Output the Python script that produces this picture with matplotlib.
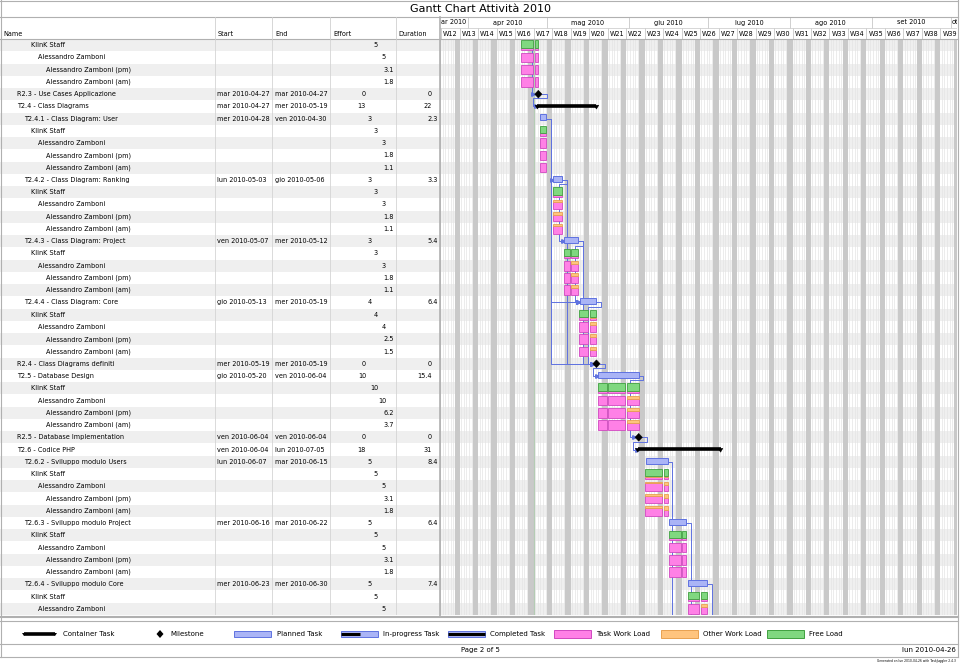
import matplotlib
matplotlib.use("Agg")
import matplotlib.pyplot as plt
import matplotlib.dates as mdates
from matplotlib.patches import Rectangle, Polygon
from matplotlib.lines import Line2D
from datetime import datetime, timedelta

plt.rcParams['font.family'] = ['DejaVu Sans']

# ---------------- data ----------------
title = "Gantt Chart Attività 2010"
columns = ["Name", "Start", "End", "Effort", "Duration"]

row_names = [
    "KlinK Staff", "Alessandro Zamboni", "Alessandro Zamboni (pm)", "Alessandro Zamboni (am)",
    "R2.3 - Use Cases Applicazione",
    "T2.4 - Class Diagrams",
    "T2.4.1 - Class Diagram: User",
    "KlinK Staff", "Alessandro Zamboni", "Alessandro Zamboni (pm)", "Alessandro Zamboni (am)",
    "T2.4.2 - Class Diagram: Ranking",
    "KlinK Staff", "Alessandro Zamboni", "Alessandro Zamboni (pm)", "Alessandro Zamboni (am)",
    "T2.4.3 - Class Diagram: Project",
    "KlinK Staff", "Alessandro Zamboni", "Alessandro Zamboni (pm)", "Alessandro Zamboni (am)",
    "T2.4.4 - Class Diagram: Core",
    "KlinK Staff", "Alessandro Zamboni", "Alessandro Zamboni (pm)", "Alessandro Zamboni (am)",
    "R2.4 - Class Diagrams definiti",
    "T2.5 - Database Design",
    "KlinK Staff", "Alessandro Zamboni", "Alessandro Zamboni (pm)", "Alessandro Zamboni (am)",
    "R2.5 - Database Implementation",
    "T2.6 - Codice PHP",
    "T2.6.2 - Sviluppo modulo Users",
    "KlinK Staff", "Alessandro Zamboni", "Alessandro Zamboni (pm)", "Alessandro Zamboni (am)",
    "T2.6.3 - Sviluppo modulo Project",
    "KlinK Staff", "Alessandro Zamboni", "Alessandro Zamboni (pm)", "Alessandro Zamboni (am)",
    "T2.6.4 - Sviluppo modulo Core",
    "KlinK Staff", "Alessandro Zamboni",
]
# 0 = top task, 1 = sub task, 2 = team, 3 = person, 4 = shift
row_level = [2, 3, 4, 4, 0, 0, 1, 2, 3, 4, 4, 1, 2, 3, 4, 4, 1, 2, 3, 4, 4,
             1, 2, 3, 4, 4, 0, 0, 2, 3, 4, 4, 0, 0, 1, 2, 3, 4, 4, 1, 2, 3, 4, 4,
             1, 2, 3]
row_kind = ["res"] * 4 + ["milestone", "container", "task"] + ["res"] * 4 + ["task"] + ["res"] * 4 \
    + ["task"] + ["res"] * 4 + ["task"] + ["res"] * 4 + ["milestone", "task"] + ["res"] * 4 \
    + ["milestone", "container", "task"] + ["res"] * 4 + ["task"] + ["res"] * 4 + ["task"] + ["res"] * 2
row_start = ["", "", "", "", "mar 2010-04-27", "mar 2010-04-27", "mer 2010-04-28", "", "", "", "",
             "lun 2010-05-03", "", "", "", "", "ven 2010-05-07", "", "", "", "",
             "gio 2010-05-13", "", "", "", "", "mer 2010-05-19", "gio 2010-05-20", "", "", "", "",
             "ven 2010-06-04", "ven 2010-06-04", "lun 2010-06-07", "", "", "", "",
             "mer 2010-06-16", "", "", "", "", "mer 2010-06-23", "", ""]
row_end = ["", "", "", "", "mar 2010-04-27", "mer 2010-05-19", "ven 2010-04-30", "", "", "", "",
           "gio 2010-05-06", "", "", "", "", "mer 2010-05-12", "", "", "", "",
           "mer 2010-05-19", "", "", "", "", "mer 2010-05-19", "ven 2010-06-04", "", "", "", "",
           "ven 2010-06-04", "lun 2010-07-05", "mar 2010-06-15", "", "", "", "",
           "mar 2010-06-22", "", "", "", "", "mer 2010-06-30", "", ""]
row_effort = ["5", "5", "3.1", "1.8", "0", "13", "3", "3", "3", "1.8", "1.1",
              "3", "3", "3", "1.8", "1.1", "3", "3", "3", "1.8", "1.1",
              "4", "4", "4", "2.5", "1.5", "0", "10", "10", "10", "6.2", "3.7",
              "0", "18", "5", "5", "5", "3.1", "1.8", "5", "5", "5", "3.1", "1.8",
              "5", "5", "5"]
row_duration = ["", "", "", "", "0", "22", "2.3", "", "", "", "",
                "3.3", "", "", "", "", "5.4", "", "", "", "",
                "6.4", "", "", "", "", "0", "15.4", "", "", "", "",
                "0", "31", "8.4", "", "", "", "", "6.4", "", "", "", "", "7.4", "", ""]

# task that owns the first resource rows (it sits on the previous page)
prev_task = ("2010-04-21", "2010-04-27")

# load per week for every resource row: (task load, other load); the rest is free load
row_load = [
    [(0.25, 0), (0.25, 0)], [(1, 0), (1, 0)], [(1, 0), (1, 0)], [(1, 0), (1, 0)],
    None, None, None,
    [(0.25, 0)], [(1, 0)], [(1, 0)], [(1, 0)],
    None,
    [(0.2, 0.05)], [(0.75, 0.25)], [(0.7, 0.3)], [(0.8, 0.2)],
    None,
    [(0.25, 0), (0.2, 0.05)], [(1, 0), (0.7, 0.3)], [(1, 0), (0.7, 0.3)], [(1, 0), (0.7, 0.3)],
    None,
    [(0.25, 0), (0.2, 0.05)], [(1, 0), (0.7, 0.3)], [(1, 0), (0.7, 0.3)], [(1, 0), (0.7, 0.3)],
    None, None,
    [(0.25, 0), (0.25, 0), (0.2, 0.05)], [(1, 0), (1, 0), (0.7, 0.3)],
    [(1, 0), (1, 0), (0.7, 0.3)], [(1, 0), (1, 0), (0.7, 0.3)],
    None, None, None,
    [(0.2, 0.05), (0.15, 0.1)], [(0.8, 0.2), (0.6, 0.4)], [(0.8, 0.2), (0.6, 0.4)], [(0.8, 0.2), (0.6, 0.4)],
    None,
    [(0.25, 0), (0.25, 0)], [(1, 0), (1, 0)], [(1, 0), (1, 0)], [(1, 0), (1, 0)],
    None,
    [(0.25, 0), (0.2, 0.05)], [(1, 0), (0.7, 0.3)],
]

deps = [("prev", "R2.3"), ("R2.3", "T2.4"), ("T2.4.1", "T2.4.2"), ("T2.4.2", "T2.4.3"),
        ("T2.4.3", "T2.4.4"), ("T2.4.1", "T2.4.4"), ("T2.4.2", "T2.4.4"),
        ("T2.4.1", "R2.4"), ("T2.4.2", "R2.4"), ("T2.4.3", "R2.4"), ("T2.4.4", "R2.4"),
        ("R2.4", "T2.5"), ("T2.5", "R2.5"), ("R2.5", "T2.6"),
        ("T2.6.2", "next"), ("T2.6.3", "next"), ("T2.6.4", "next")]
prev_dep_end = "2010-04-23"

month_labels = ["ar 2010", "apr 2010", "mag 2010", "giu 2010", "lug 2010", "ago 2010", "set 2010", "ott"]
month_starts = ["2010-03-22", "2010-04-01", "2010-05-01", "2010-06-01", "2010-07-01",
                "2010-08-01", "2010-09-01", "2010-10-01"]
first_week = 12
view_start = "2010-03-22"
now_date = "2010-04-26"

legend_items = ["Container Task", "Milestone", "Planned Task", "In-progress Task",
                "Completed Task", "Task Work Load", "Other Work Load", "Free Load"]
page_text = "Page 2 of 5"
date_text = "lun 2010-04-26"
gen_text = "Generated on lun 2010-04-26 with TaskJuggler 2.4.3"

# ---------------- styles ----------------
BLUE_F, BLUE_E = '#aab4f6', '#5f72e0'
PINK_F, PINK_E = '#ff80e6', '#d048c0'
ORNG_F, ORNG_E = '#ffc47e', '#e8a050'
GRN_F, GRN_E = '#80d880', '#40a040'
DEP_C = '#5f72e0'
ROW_GRAY = '#efefef'
LINE_C = '#b0b0b0'
FS = 4.7

W, H = 960, 664
fig = plt.figure(figsize=(9.6, 6.64), dpi=100)


def box(x0, y0, x1, y1):
    a = fig.add_axes([x0 / W, 1 - y1 / H, (x1 - x0) / W, (y1 - y0) / H])
    a.set_axis_off()
    return a


def fline(xs, ys, c=LINE_C, lw=0.8):
    fig.add_artist(Line2D([x / W for x in xs], [1 - y / H for y in ys], color=c, lw=lw))


def d(s):
    return datetime.strptime(s[-10:], "%Y-%m-%d")


def dn(dt):
    return mdates.date2num(dt)


n = len(row_names)
base = dn(d(view_start))
x_lo, x_hi = base - 0.5, base + 195.3

# ---------------- table ----------------
tab = box(0, 39, 440, 615)
tab.set_xlim(0, 440)
tab.set_ylim(n - 0.5, -0.5)
for i in range(0, n, 2):
    tab.axhspan(i - 0.5, i + 0.5, color=ROW_GRAY, lw=0)
for xv in [215, 272, 330, 396]:
    tab.axvline(xv, color='#d4d4d4', lw=0.6)
name_x = [17, 24, 31, 38, 46]
eff_x = [366, 372, 378, 386, 394]
dur_x = [432, 438]
for i in range(n):
    lv = row_level[i]
    tab.text(name_x[lv], i, row_names[i], fontsize=FS, va='center', ha='left')
    if row_start[i]:
        tab.text(217, i, row_start[i], fontsize=FS, va='center')
        tab.text(275, i, row_end[i], fontsize=FS, va='center')
    tab.text(eff_x[lv], i, row_effort[i], fontsize=FS, va='center', ha='right')
    if row_duration[i]:
        tab.text(dur_x[lv], i, row_duration[i], fontsize=FS, va='center', ha='right')

# header of the table
for xv, lab in zip([3, 218, 275, 333, 398], columns):
    fig.text(xv / W, 1 - 34 / H, lab, fontsize=FS, va='center')
fig.text(480 / W, 1 - 8.5 / H, title, fontsize=8, ha='center', va='center')

# ---------------- gantt background ----------------
g = box(440, 39, 957, 615)
g.set_xlim(x_lo, x_hi)
g.set_ylim(n - 0.5, -0.5)
for i in range(0, n, 2):
    g.axhspan(i - 0.5, i + 0.5, color=ROW_GRAY, lw=0, zorder=0)
for k in range(-1, 197):
    x = base + k
    wd = k % 7
    if wd in (5, 6):
        g.axvspan(x, x + 1, color='#c9c9c9', lw=0, zorder=0.5)
    else:
        g.axvline(x + 0.5, color='#e4e4e4', lw=0.5, zorder=0.6)
g.axvline(dn(d(now_date)), color='#b4ccb4', lw=0.8, zorder=0.7)

# ---------------- gantt header ----------------
gh = box(440, 17, 957, 39)
gh.set_xlim(x_lo, x_hi)
gh.set_ylim(2, 0)
for k in range(0, 28):
    mon = base + 7 * k
    gh.plot([mon, mon], [1, 2], color='#c8c8c8', lw=0.6)
    if mon + 3.5 < x_hi:
        gh.text(mon + 3.5, 1.55, "W%d" % (first_week + k), fontsize=FS, ha='center', va='center')
for j, (lab, ms) in enumerate(zip(month_labels, month_starts)):
    m0 = dn(d(ms))
    m1 = dn(d(month_starts[j + 1])) if j + 1 < len(month_starts) else x_hi
    if j > 0:
        gh.plot([m0, m0], [0, 1], color='#c8c8c8', lw=0.6)
    if j == 0:
        gh.text(x_lo + 0.3, 0.5, lab, fontsize=FS, ha='left', va='center', clip_on=True)
    elif j == len(month_labels) - 1:
        gh.text(m0 + 0.1, 0.5, lab, fontsize=FS, ha='left', va='center', clip_on=True)
    else:
        gh.text((m0 + m1) / 2, 0.5, lab, fontsize=FS, ha='center', va='center')
gh.plot([x_lo, x_hi], [1, 1], color='#d0d0d0', lw=0.6)

# ---------------- bars ----------------
def t_start(s):
    return dn(d(s) + timedelta(hours=9))


def t_end(s):
    return dn(d(s) + timedelta(hours=18))


code_row = {row_names[i].split(" - ")[0]: i for i in range(n) if row_kind[i] != "res"}
HALF_BAR = 0.24
DIA = 1.4  # half width of milestone diamond (days)

for i in range(n):
    k = row_kind[i]
    if k == "task":
        x0, x1 = t_start(row_start[i]), t_end(row_end[i])
        g.add_patch(Rectangle((x0, i - HALF_BAR - 0.1), x1 - x0, 2 * HALF_BAR, fc=BLUE_F, ec=BLUE_E,
                              lw=0.7, zorder=3))
    elif k == "container":
        x0, x1 = t_start(row_start[i]), t_end(row_end[i])
        g.plot([x0, x1], [i - 0.05, i - 0.05], color='black', lw=2.6, solid_capstyle='butt', zorder=3)
        for xe in (x0, x1):
            g.add_patch(Polygon([(xe - 0.9, i - 0.1), (xe + 0.9, i - 0.1), (xe, i + 0.22)],
                                closed=True, fc='black', ec='black', lw=0.3, zorder=3))
    elif k == "milestone":
        xm = t_end(row_start[i])
        g.add_patch(Polygon([(xm - DIA, i), (xm, i - 0.32), (xm + DIA, i), (xm, i + 0.32)],
                            closed=True, fc='black', ec='black', lw=0.3, zorder=4))

# resource load boxes, one box per week
owner = prev_task
BH = 0.39
for i in range(n):
    if row_kind[i] == "task":
        owner = (row_start[i], row_end[i])
        continue
    if row_kind[i] != "res":
        continue
    s, e = d(owner[0]), d(owner[1]) + timedelta(days=1)
    segs = []
    cur = s
    while cur < e:
        nxt = cur + timedelta(days=7 - cur.weekday())
        segs.append((cur, min(nxt, e)))
        cur = nxt
    for (a, b), (tl, ol) in zip(segs, row_load[i]):
        xa, xb = dn(a) + 0.3, dn(b) - 0.3
        yb = i + BH
        parts = [(tl, PINK_F, PINK_E), (ol, ORNG_F, ORNG_E), (1 - tl - ol, GRN_F, GRN_E)]
        for frac, fc, ec in parts:
            if frac <= 0.001:
                continue
            h = frac * 2 * BH
            g.add_patch(Rectangle((xa, yb - h), xb - xa, h, fc=fc, ec=ec, lw=0.6, zorder=3))
            yb -= h

# dependencies
DD = 1.75


def row_x(code, at_end):
    r = code_row[code]
    if row_kind[r] == "milestone":
        xm = t_end(row_start[r])
        return (xm + DIA if at_end else xm - DIA), r
    return (t_end(row_end[r]) if at_end else t_start(row_start[r])), r


for a, b in deps:
    if a == "prev":
        xa, ra = t_end(prev_dep_end), -1.5
    else:
        xa, ra = row_x(a, True)
    if b == "next":
        g.plot([xa, xa + DD, xa + DD], [ra, ra, n + 1], color=DEP_C, lw=0.7, zorder=2)
        continue
    xb, rb = row_x(b, False)
    if xa + DD <= xb:
        xs = [xa, xa + DD, xa + DD, xb]
        ys = [ra, ra, rb, rb]
    else:
        mid = ra + 0.35
        xs = [xa, xa + DD, xa + DD, xb - DD, xb - DD, xb]
        ys = [ra, ra, mid, mid, rb, rb]
    g.plot(xs, ys, color=DEP_C, lw=0.7, zorder=2)
    g.plot([xb - 0.45], [rb], marker='>', ms=2.6, color=DEP_C, mec=DEP_C, zorder=2)

# ---------------- frame lines ----------------
fline([0.5, 0.5], [0, 657])
fline([958, 958], [0, 657])
fline([0, 958], [0.5, 0.5])
fline([0, 958], [17, 17])
fline([0, 440], [39, 39])
fline([440, 958], [39, 39])
for xv in [215, 272, 330, 396]:
    fline([xv, xv], [17, 39], c='#d0d0d0', lw=0.6)
fline([440, 440], [17, 617], lw=1.2)
fline([0, 958], [617, 617], lw=1.5)
fline([0, 958], [621, 621], lw=0.8)
fline([0, 958], [644, 644], lw=0.8)
fline([0, 958], [657, 657], lw=0.8)

# ---------------- legend ----------------
lg = box(0, 621, 960, 644)
lg.set_xlim(0, 960)
lg.set_ylim(23, 0)
sym_x = [24, 156, 234, 341, 448, 554, 661, 767]
txt_x = [63, 170, 277, 383, 490, 596, 703, 809]
yc = 13
lg.plot([24, 55], [yc - 0.5, yc - 0.5], color='black', lw=2.6, solid_capstyle='butt')
for xe in (24, 55):
    lg.add_patch(Polygon([(xe - 2, yc - 1), (xe + 2, yc - 1), (xe, yc + 2)], fc='black'))
lg.add_patch(Polygon([(156.5, yc), (160, yc - 4), (163.5, yc), (160, yc + 4)], fc='black'))
for xs in sym_x[2:5]:
    lg.add_patch(Rectangle((xs, yc - 3), 37, 6, fc=BLUE_F, ec=BLUE_E, lw=0.7))
lg.plot([341, 360], [yc, yc], color='black', lw=2.2, solid_capstyle='butt')
lg.plot([448, 485], [yc, yc], color='black', lw=2.2, solid_capstyle='butt')
for xs, fc, ec in zip(sym_x[5:], [PINK_F, ORNG_F, GRN_F], [PINK_E, ORNG_E, GRN_E]):
    lg.add_patch(Rectangle((xs, yc - 4), 37, 8, fc=fc, ec=ec, lw=0.7))
for xt, lab in zip(txt_x, legend_items):
    lg.text(xt, yc, lab, fontsize=5, va='center', ha='left')

fig.text(480 / W, 1 - 650 / H, page_text, fontsize=5, ha='center', va='center')
fig.text(956 / W, 1 - 650 / H, date_text, fontsize=5, ha='right', va='center')
fig.text(956 / W, 1 - 661 / H, gen_text, fontsize=2.2, ha='right', va='center')

fig.savefig("out.png", dpi=100)
